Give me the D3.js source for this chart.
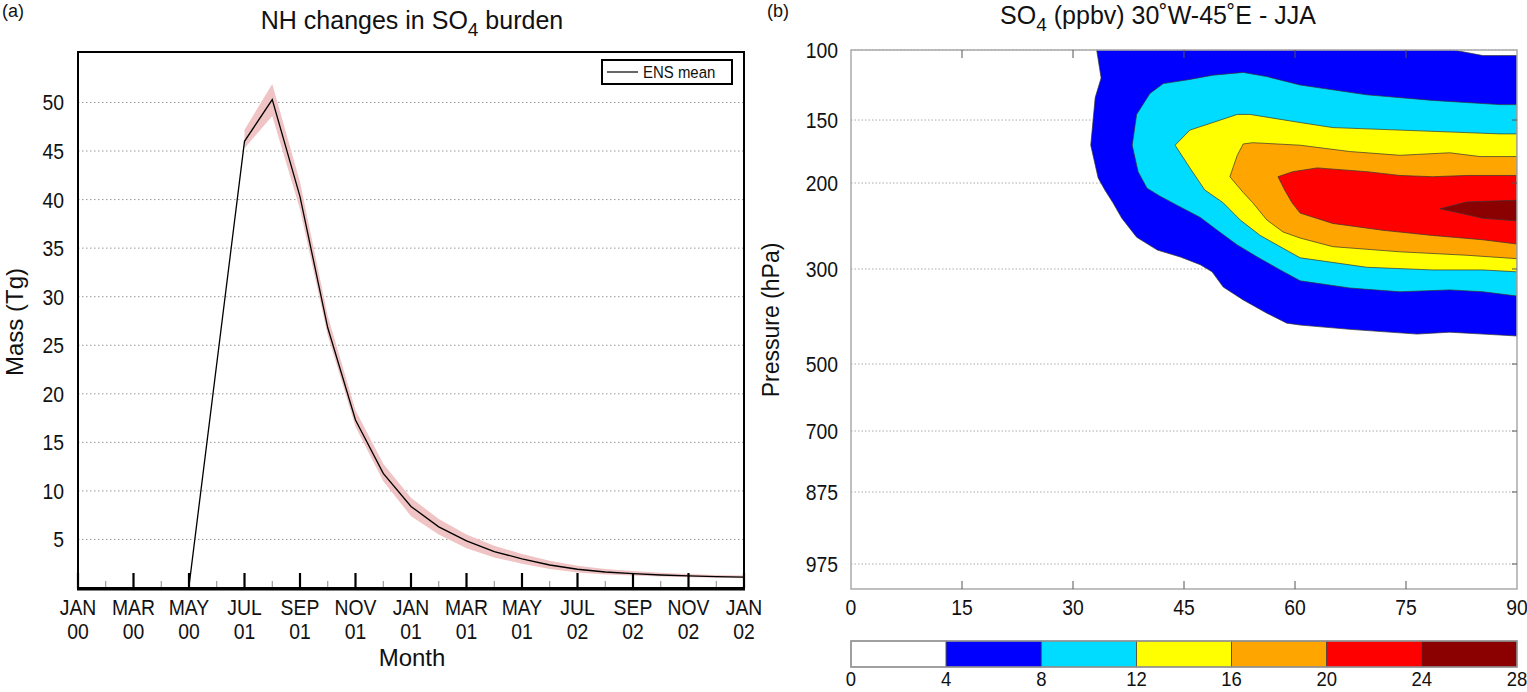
<!DOCTYPE html>
<html>
<head>
<meta charset="utf-8">
<script src="https://cdn.jsdelivr.net/npm/d3@7"></script>
<style>
  body { margin: 0; background: #fff; }
  text { font-family: "Liberation Sans", Arial, Helvetica, sans-serif; fill: #111; }
</style>
</head>
<body>
<div id="chart"></div>
<script>
// panel (a) - NH SO4 burden, months since JAN 00
var meanMonths = [4, 6, 7, 8, 9, 10, 11, 12, 13, 14, 15, 16, 17, 18, 19, 20, 21, 22, 23, 24];
var massMean = [0.2, 46.0, 50.3, 40.3, 26.8, 17.3, 11.8, 8.4, 6.3, 4.85, 3.75, 3.0, 2.37, 1.93, 1.65, 1.48, 1.34, 1.24, 1.17, 1.13];
var bandMonths = [6, 7, 8, 9, 10, 11, 12, 13, 14, 15, 16, 17, 18, 19, 20, 21, 22, 23, 24];
var massLow = [45.3, 48.6, 39.0, 26.0, 16.6, 11.0, 7.4, 5.5, 4.1, 3.15, 2.5, 1.95, 1.6, 1.4, 1.28, 1.18, 1.1, 1.05, 1.0];
var massHigh = [47.2, 51.9, 41.8, 28.0, 18.3, 12.8, 9.3, 7.1, 5.5, 4.35, 3.5, 2.8, 2.28, 1.95, 1.75, 1.58, 1.45, 1.35, 1.3];
var tickMonths = [0, 2, 4, 6, 8, 10, 12, 14, 16, 18, 20, 22, 24];
var monthNames = ["JAN", "MAR", "MAY", "JUL", "SEP", "NOV", "JAN", "MAR", "MAY", "JUL", "SEP", "NOV", "JAN"];
var yearNames = ["00", "00", "00", "01", "01", "01", "01", "01", "01", "02", "02", "02", "02"];
var massTicks = [5, 10, 15, 20, 25, 30, 35, 40, 45, 50];

// panel (b) - SO4 (ppbv), latitude vs pressure, filled contour boundaries [lat, hPa]
var latTicks = [0, 15, 30, 45, 60, 75, 90];
var pressureTicks = [100, 150, 200, 300, 500, 700, 875, 975];
var levelBounds = [0, 4, 8, 12, 16, 20, 24, 28];
var levelColors = ["#ffffff", "#0000ff", "#00dcff", "#ffff00", "#ffa500", "#ff0000", "#8b0000"];

var so4Ge4 = [[33.2,100],[33.8,120],[33.0,134],[32.4,170],[33.4,196],[34.3,208],[35.4,223],[36.6,241],[38.6,263],[41.4,278],[44.5,286],[47.2,295],[48.8,306],[50.3,338],[53.0,365],[56.2,393],[58.9,414],[60.7,418],[67.4,427],[76.5,437],[80.9,433],[85.4,437],[90,441],[90,104],[85.4,104],[81.4,100]];
var so4Ge8 = [[38.6,146],[40.4,131],[42.2,124],[45.8,121],[48.9,118],[53.0,116],[56.2,119],[60.7,125],[69.7,132],[78.6,136],[87.7,139],[90,139],[90,357],[85.4,348],[80.9,344],[74.2,348],[67.4,340],[60.7,325],[58.0,302],[54.9,286],[52.2,272],[49.5,255],[47.2,240],[44.1,226],[41.7,215],[40.0,206],[38.8,191],[38.0,170]];
var so4Ge12 = [[43.8,170],[45.8,158],[48.9,152],[52.2,146],[53.9,146],[60.7,152],[65.1,156],[74.2,158],[83.2,160],[87.7,161],[90,161],[90,306],[85.4,302],[78.6,302],[69.7,298],[60.7,287],[58.4,276],[55.3,261],[52.6,243],[50.3,223],[47.8,208],[45.8,188]];
var so4Ge16 = [[52.2,178],[53.0,169],[54.3,168],[60.7,170],[67.4,175],[74.2,178],[80.9,176],[85.0,179],[90,179],[90,288],[83.2,284],[74.2,280],[65.1,274],[60.7,264],[58.4,257],[56.2,243],[54.3,223],[53.0,211],[51.2,195]];
var so4Ge20 = [[57.7,195],[59.7,191],[63.0,188],[69.7,191],[74.2,194],[78.6,195],[83.2,194],[90,194],[90,271],[85.4,266],[78.6,261],[71.9,255],[65.1,247],[60.7,235],[59.6,223],[58.6,208]];
var so4Ge24 = [[79.6,230],[83.2,222],[90,220],[90,244],[85.4,241],[82.3,235]];

var svg = d3.select("#chart")
    .append("svg")
    .attr("width", 1527)
    .attr("height", 692);

// tick labels in the original are a narrow face: squeeze them round their anchor
var condense = function (sel) {
    sel.attr("transform", function() {
        var x = +this.getAttribute("x"), y = +this.getAttribute("y");
        return "translate(" + x + "," + y + ") scale(0.88,1) translate(" + (-x) + "," + (-y) + ")";
    });
};

// ---------------- panel (a) ----------------
var aLeft = 78, aRight = 744, aTop = 52, aBottom = 588;
var xa = d3.scaleLinear().domain([0, 24]).range([aLeft, aRight]);
var ya = d3.scaleLinear().domain([0, 55.2]).range([aBottom, aTop]);

svg.append("text").attr("x", 2).attr("y", 17).style("font-size", "18px").text("(a)");

var titleA = svg.append("text").attr("x", 412).attr("y", 29)
    .attr("text-anchor", "middle").style("font-size", "25px");
titleA.append("tspan").text("NH changes in SO");
titleA.append("tspan").attr("dy", 7).style("font-size", "19px").text("4");
titleA.append("tspan").attr("dy", -7).text(" burden");

svg.selectAll(".gridA")
    .data(massTicks)
    .enter()
    .append("line")
    .attr("class", "gridA")
    .attr("x1", aLeft).attr("x2", aRight)
    .attr("y1", function(d) { return ya(d); })
    .attr("y2", function(d) { return ya(d); })
    .attr("stroke", "#999")
    .attr("stroke-width", 1)
    .attr("stroke-dasharray", "1.5,2.5");

var bandData = bandMonths.map(function(m, i) { return {m: m, lo: massLow[i], hi: massHigh[i]}; });
svg.append("path")
    .datum(bandData)
    .attr("d", d3.area()
        .x(function(d) { return xa(d.m); })
        .y0(function(d) { return ya(d.lo); })
        .y1(function(d) { return ya(d.hi); }))
    .attr("fill", "#f0c4c4");

var meanData = meanMonths.map(function(m, i) { return {m: m, v: massMean[i]}; });
svg.append("path")
    .datum(meanData)
    .attr("d", d3.line()
        .x(function(d) { return xa(d.m); })
        .y(function(d) { return ya(d.v); }))
    .attr("fill", "none")
    .attr("stroke", "#000")
    .attr("stroke-width", 1.3);

// minor ticks each month, major every two
svg.selectAll(".minorA")
    .data(d3.range(1, 24, 2))
    .enter()
    .append("line")
    .attr("x1", function(d) { return xa(d); })
    .attr("x2", function(d) { return xa(d); })
    .attr("y1", aBottom).attr("y2", aBottom - 7)
    .attr("stroke", "#888").attr("stroke-width", 1);

svg.selectAll(".majorA")
    .data(tickMonths)
    .enter()
    .append("line")
    .attr("x1", function(d) { return xa(d); })
    .attr("x2", function(d) { return xa(d); })
    .attr("y1", aBottom).attr("y2", aBottom - 15)
    .attr("stroke", "#000").attr("stroke-width", 2.2);

svg.append("rect")
    .attr("x", aLeft).attr("y", aTop)
    .attr("width", aRight - aLeft).attr("height", aBottom - aTop)
    .attr("fill", "none").attr("stroke", "#000").attr("stroke-width", 2);
svg.append("line")
    .attr("x1", aLeft - 1).attr("x2", aRight + 1)
    .attr("y1", aBottom + 1).attr("y2", aBottom + 1)
    .attr("stroke", "#000").attr("stroke-width", 3);

svg.selectAll(".ylabA")
    .data(massTicks)
    .enter()
    .append("text")
    .attr("x", 64)
    .attr("y", function(d) { return ya(d) + 8; })
    .attr("text-anchor", "end")
    .style("font-size", "22px")
    .text(function(d) { return d; })
    .call(condense);

svg.selectAll(".monA")
    .data(tickMonths)
    .enter()
    .append("text")
    .attr("x", function(d) { return xa(d); })
    .attr("y", 615)
    .attr("text-anchor", "middle")
    .style("font-size", "22px")
    .text(function(d, i) { return monthNames[i]; })
    .call(condense);
svg.selectAll(".yrA")
    .data(tickMonths)
    .enter()
    .append("text")
    .attr("x", function(d) { return xa(d); })
    .attr("y", 639)
    .attr("text-anchor", "middle")
    .style("font-size", "22px")
    .text(function(d, i) { return yearNames[i]; })
    .call(condense);

svg.append("text").attr("x", 412).attr("y", 666)
    .attr("text-anchor", "middle").style("font-size", "24px").text("Month");
svg.append("text")
    .attr("transform", "translate(23,322) rotate(-90)")
    .attr("text-anchor", "middle").style("font-size", "24px").text("Mass (Tg)");

// legend
var legend = svg.append("g");
legend.append("rect").attr("x", 602).attr("y", 60).attr("width", 130).attr("height", 24)
    .attr("fill", "#fff").attr("stroke", "#000").attr("stroke-width", 2);
legend.append("line").attr("x1", 607).attr("x2", 638).attr("y1", 72).attr("y2", 72)
    .attr("stroke", "#000").attr("stroke-width", 1.2);
legend.append("text").attr("x", 643).attr("y", 78).style("font-size", "17px").text("ENS mean")
    .call(condense);

// ---------------- panel (b) ----------------
var bLeft = 851, bRight = 1517, bTop = 50, bBottom = 589;
var xb = d3.scaleLinear().domain([0, 90]).range([bLeft, bRight]);
// pressure axis follows the model levels, so it is piecewise between labelled levels
var levelFrac = [0, 0.1299, 0.2468, 0.4063, 0.5826, 0.7069, 0.8200, 0.9536, 1];
var yb = d3.scaleLinear()
    .domain(pressureTicks.concat([1000]))
    .range(levelFrac.map(function(f) { return bTop + f * (bBottom - bTop); }));

svg.append("text").attr("x", 767).attr("y", 17).style("font-size", "18px").text("(b)");
var titleB = svg.append("text").attr("x", 1158).attr("y", 24)
    .attr("text-anchor", "middle").style("font-size", "25px");
titleB.append("tspan").text("SO");
titleB.append("tspan").attr("dy", 7).style("font-size", "19px").text("4");
titleB.append("tspan").attr("dy", -7).text(" (ppbv) 30˚W-45˚E - JJA");

svg.append("defs").append("clipPath").attr("id", "clipB")
    .append("rect").attr("x", bLeft).attr("y", bTop)
    .attr("width", bRight - bLeft).attr("height", bBottom - bTop);

svg.selectAll(".gridB")
    .data(pressureTicks)
    .enter()
    .append("line")
    .attr("x1", bLeft).attr("x2", bRight)
    .attr("y1", function(d) { return yb(d); })
    .attr("y2", function(d) { return yb(d); })
    .attr("stroke", "#aaa")
    .attr("stroke-width", 1)
    .attr("stroke-dasharray", "1.5,2");

var contourBands = [
    {shape: so4Ge4, color: levelColors[1]},
    {shape: so4Ge8, color: levelColors[2]},
    {shape: so4Ge12, color: levelColors[3]},
    {shape: so4Ge16, color: levelColors[4]},
    {shape: so4Ge20, color: levelColors[5]},
    {shape: so4Ge24, color: levelColors[6]}
];
var contourLine = d3.line()
    .x(function(d) { return xb(d[0]); })
    .y(function(d) { return yb(d[1]); })
    .curve(d3.curveLinearClosed);

svg.append("g").attr("clip-path", "url(#clipB)")
    .selectAll(".band")
    .data(contourBands)
    .enter()
    .append("path")
    .attr("class", "band")
    .attr("d", function(d) { return contourLine(d.shape); })
    .attr("fill", function(d) { return d.color; })
    .attr("stroke", "#333")
    .attr("stroke-width", 0.7)
    .attr("stroke-linejoin", "round");

// frame and ticks
svg.append("rect")
    .attr("x", bLeft).attr("y", bTop)
    .attr("width", bRight - bLeft).attr("height", bBottom - bTop)
    .attr("fill", "none").attr("stroke", "#aaa").attr("stroke-width", 1.5);

var innerLat = latTicks.slice(1, -1);
svg.selectAll(".tickTopB")
    .data(innerLat)
    .enter()
    .append("line")
    .attr("x1", function(d) { return xb(d); })
    .attr("x2", function(d) { return xb(d); })
    .attr("y1", bTop).attr("y2", bTop + 8)
    .attr("stroke", "#555").attr("stroke-width", 1);
svg.selectAll(".tickBotB")
    .data(innerLat)
    .enter()
    .append("line")
    .attr("x1", function(d) { return xb(d); })
    .attr("x2", function(d) { return xb(d); })
    .attr("y1", bBottom).attr("y2", bBottom - 8)
    .attr("stroke", "#555").attr("stroke-width", 1);
svg.selectAll(".tickRightB")
    .data(pressureTicks.slice(1))
    .enter()
    .append("line")
    .attr("x1", bRight).attr("x2", bRight - 5)
    .attr("y1", function(d) { return yb(d); })
    .attr("y2", function(d) { return yb(d); })
    .attr("stroke", "#555").attr("stroke-width", 1);

svg.selectAll(".ylabB")
    .data(pressureTicks)
    .enter()
    .append("text")
    .attr("x", 838)
    .attr("y", function(d) { return yb(d) + 8; })
    .attr("text-anchor", "end")
    .style("font-size", "22px")
    .text(function(d) { return d; })
    .call(condense);

svg.selectAll(".xlabB")
    .data(latTicks)
    .enter()
    .append("text")
    .attr("x", function(d) { return xb(d); })
    .attr("y", 615)
    .attr("text-anchor", "middle")
    .style("font-size", "22px")
    .text(function(d) { return d; })
    .call(condense);

svg.append("text")
    .attr("transform", "translate(779,320) rotate(-90)")
    .attr("text-anchor", "middle").style("font-size", "23px").text("Pressure (hPa)");

// colorbar
var cb = d3.scaleLinear().domain([0, 28]).range([bLeft, bRight]);
var cbTop = 641, cbHeight = 26;
svg.selectAll(".cbSeg")
    .data(levelColors)
    .enter()
    .append("rect")
    .attr("x", function(d, i) { return cb(levelBounds[i]); })
    .attr("y", cbTop)
    .attr("width", function(d, i) { return cb(levelBounds[i + 1]) - cb(levelBounds[i]); })
    .attr("height", cbHeight)
    .attr("fill", function(d) { return d; })
    .attr("stroke", "#444")
    .attr("stroke-width", 0.8);
svg.append("rect")
    .attr("x", bLeft).attr("y", cbTop)
    .attr("width", bRight - bLeft).attr("height", cbHeight)
    .attr("fill", "none").attr("stroke", "#999").attr("stroke-width", 1.5);

svg.selectAll(".cbLab")
    .data(levelBounds)
    .enter()
    .append("text")
    .attr("x", function(d) { return cb(d); })
    .attr("y", 686)
    .attr("text-anchor", "middle")
    .style("font-size", "21px")
    .text(function(d) { return d; })
    .call(condense);
</script>
</body>
</html>
